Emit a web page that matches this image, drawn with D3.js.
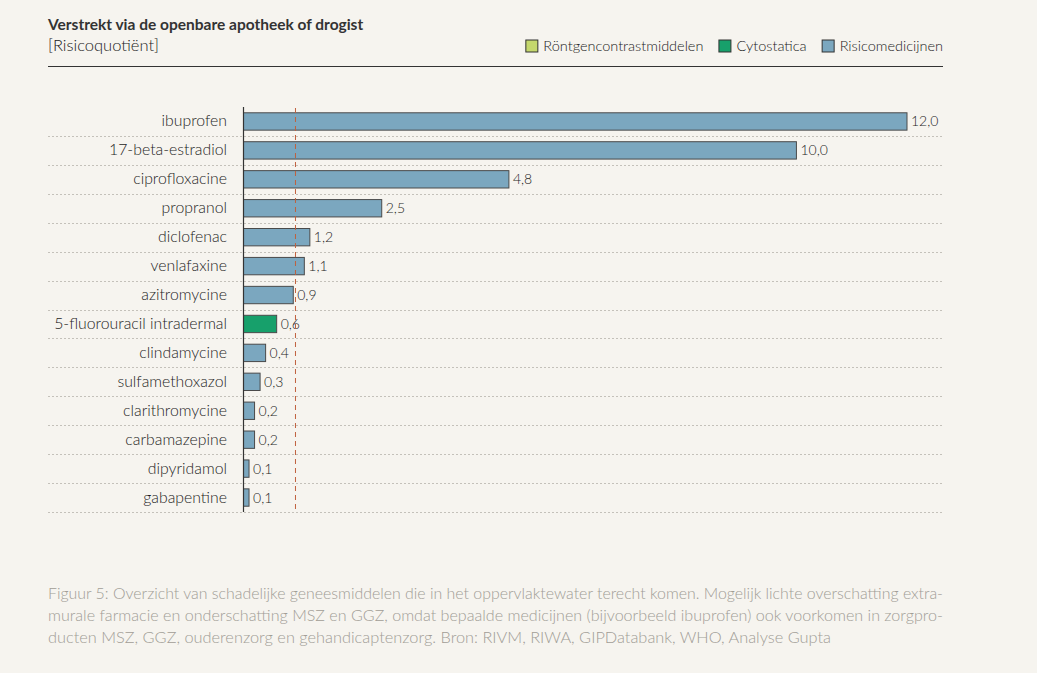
<!DOCTYPE html>
<html>
<head>
<meta charset="utf-8">
<script src="https://cdn.jsdelivr.net/npm/d3@7"></script>
<style>
  html,body{margin:0;padding:0;background:#f6f4ef;}
  svg{display:block;font-family:Lato,"Open Sans",sans-serif;}
</style>
</head>
<body>
<svg id="chart" width="1037" height="673"></svg>
<script>
/* data */
var drugs=['ibuprofen','17-beta-estradiol','ciprofloxacine','propranol','diclofenac','venlafaxine',
  'azitromycine','5-fluorouracil intradermal','clindamycine','sulfamethoxazol','clarithromycine',
  'carbamazepine','dipyridamol','gabapentine'];
var values=[12.0,10.0,4.8,2.5,1.2,1.1,0.9,0.6,0.4,0.3,0.2,0.2,0.1,0.1];
var groups=['Risico','Risico','Risico','Risico','Risico','Risico','Risico','Cyto','Risico','Risico','Risico','Risico','Risico','Risico'];
var legendKeys=['Rontgen','Cyto','Risico'];
var legendLabels=['Röntgencontrastmiddelen','Cytostatica','Risicomedicijnen'];
var threshold=0.94;
var captionLines=[
  'Figuur 5: Overzicht van schadelijke geneesmiddelen die in het oppervlaktewater terecht komen. Mogelijk lichte overschatting extra-',
  'murale farmacie en onderschatting MSZ en GGZ, omdat bepaalde medicijnen (bijvoorbeeld ibuprofen) ook voorkomen in zorgpro-',
  'ducten MSZ, GGZ, ouderenzorg en gehandicaptenzorg. Bron: RIVM, RIWA, GIPDatabank, WHO, Analyse Gupta'
];
var captionWidths=[895,895,783];

var colour={Rontgen:'#c5d86d',Cyto:'#17a06b',Risico:'#7ba7bf'};

var svg=d3.select('#chart');
var L=48, R=943;

/* header */
svg.append('text').attr('x',L).attr('y',30).attr('font-size','15.5').attr('font-weight','700')
  .attr('fill','#333').text('Verstrekt via de openbare apotheek of drogist');
svg.append('text').attr('x',L).attr('y',51).attr('font-size','16.5').attr('font-weight','300')
  .attr('fill','#222').text('[Risicoquotiënt]');
svg.append('line').attr('x1',L).attr('x2',R).attr('y1',66.5).attr('y2',66.5)
  .attr('stroke','#333').attr('stroke-width',1.2);

/* legend, laid out right to left */
var lg=svg.append('g');
var lx=R;
for(var i=legendKeys.length-1;i>=0;i--){
  var t=lg.append('text').attr('y',51).attr('font-size','14.5').attr('font-weight','300')
    .attr('fill','#222').text(legendLabels[i]);
  var w=t.node().getComputedTextLength();
  lx-=w;
  t.attr('x',lx);
  lg.append('rect').attr('x',lx-17.5).attr('y',40).attr('width',12).attr('height',12)
    .attr('fill',colour[legendKeys[i]]).attr('stroke','#333').attr('stroke-width',1);
  lx-=33;
}

/* chart */
var x0=243.5;
var x=d3.scaleLinear().domain([0,12]).range([x0,907]);
var y=d3.scaleBand().domain(drugs).range([107,512]).paddingInner(0.4).paddingOuter(0.2);
var step=y.step();

var g=svg.append('g');

drugs.forEach(function(d,i){
  var yc=y(d)+y.bandwidth()/2;
  g.append('line').attr('x1',L).attr('x2',R)
    .attr('y1',Math.round(yc+step/2)+0.5).attr('y2',Math.round(yc+step/2)+0.5)
    .attr('stroke','#c4c1ba').attr('stroke-width',1).attr('stroke-dasharray','2,2');
});

g.selectAll('rect.bar').data(drugs).enter().append('rect').attr('class','bar')
  .attr('x',x(0)).attr('y',function(d){return y(d);})
  .attr('width',function(d,i){return x(values[i])-x(0);})
  .attr('height',y.bandwidth())
  .attr('fill',function(d,i){return colour[groups[i]];})
  .attr('stroke','#4a4a4a').attr('stroke-width',1);

g.selectAll('text.lbl').data(drugs).enter().append('text').attr('class','lbl')
  .attr('x',227).attr('y',function(d){return y(d)+y.bandwidth()/2+5;})
  .attr('text-anchor','end').attr('font-size','15.8').attr('font-weight','300').attr('fill','#1e1e1e')
  .text(function(d){return d;});

g.selectAll('text.val').data(drugs).enter().append('text').attr('class','val')
  .attr('x',function(d,i){return x(values[i])+4;})
  .attr('y',function(d){return y(d)+y.bandwidth()/2+5;})
  .attr('font-size','14').attr('font-weight','300').attr('fill','#1e1e1e')
  .text(function(d,i){return values[i].toFixed(1).replace('.',',');});

g.append('line').attr('x1',x(threshold)).attr('x2',x(threshold)).attr('y1',108).attr('y2',512)
  .attr('stroke','#c0603e').attr('stroke-width',1).attr('stroke-dasharray','5,4');

g.append('line').attr('x1',x0).attr('x2',x0).attr('y1',107).attr('y2',512)
  .attr('stroke','#333').attr('stroke-width',1.2);

/* caption */
captionLines.forEach(function(s,i){
  svg.append('text').attr('x',L).attr('y',599+i*22).attr('font-size','15')
    .attr('font-weight','300').attr('fill','#a19d96')
    .attr('textLength',captionWidths[i]).attr('lengthAdjust','spacingAndGlyphs').text(s);
});
</script>
</body>
</html>
